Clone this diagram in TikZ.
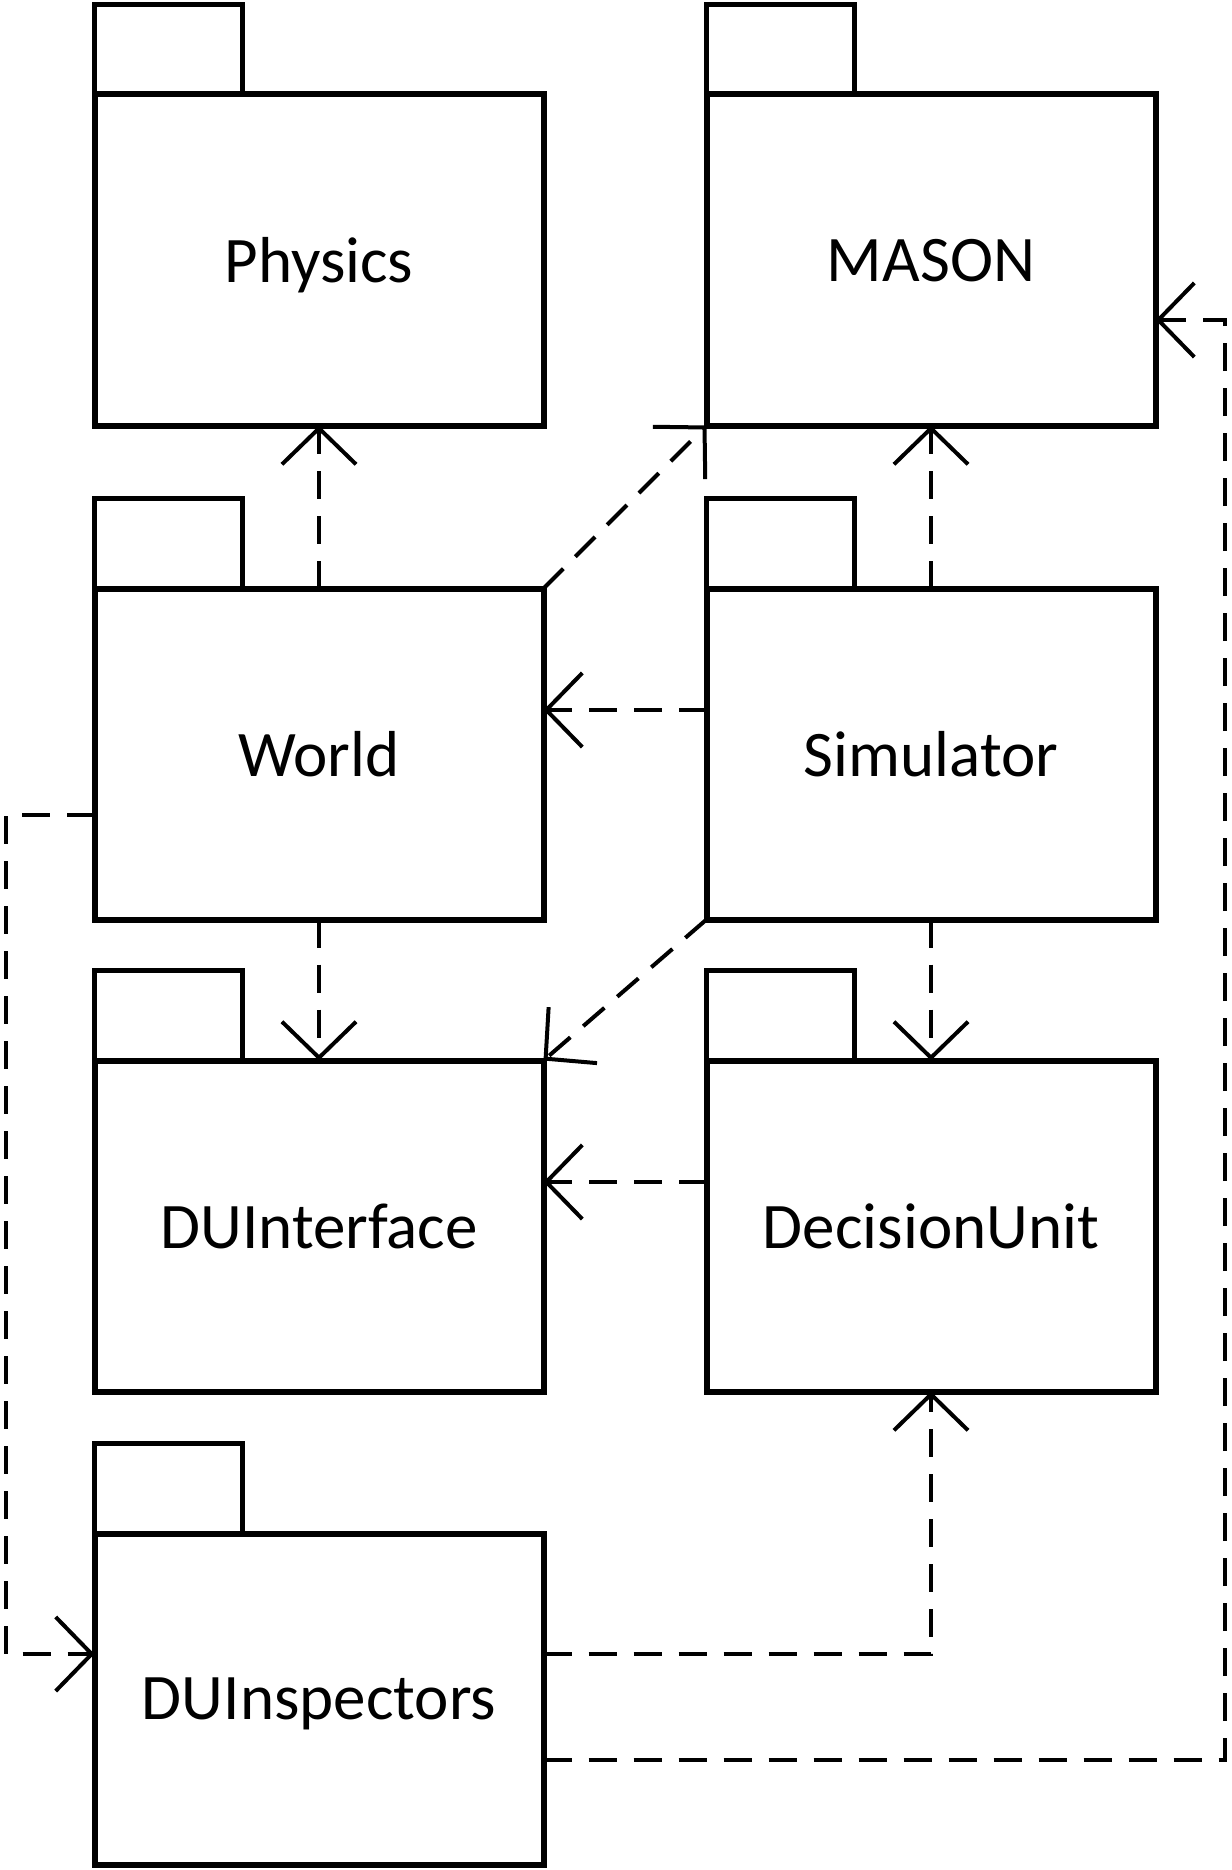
\documentclass[tikz,border=0pt]{standalone}
\usepackage{fontspec}
\setmainfont{Carlito}
\usetikzlibrary{positioning,arrows.meta}
\tikzset{
  pkg/.style    = {shape=rectangle, draw, line width=6pt, outer sep=0pt,
                   minimum width=449pt, minimum height=331pt, inner sep=0pt,
                   text depth=0pt, font=\fontsize{65}{78}\selectfont},
  pkgtab/.style = {shape=rectangle, draw, line width=5pt, outer sep=0pt,
                   minimum width=148pt, minimum height=90pt, anchor=south west},
  dep/.style    = {draw, line width=4pt, dash pattern=on 28pt off 17pt,
                   -{Straight Barb[length=36pt, width=74pt]}}
}

\begin{document}
\begin{tikzpicture}[x=1pt, y=-1pt, node distance=163pt]
  \useasboundingbox (0,0) rectangle (1231,1870);

  % packages
  \node [pkg] (physics) at (319,260) {Physics};
  \node [pkg, right=of physics] (mason) {MASON};
  \node [pkg, below=of physics] (world) {World};
  \node [pkg, right=of world] (simulator) {Simulator};
  \node [pkg, below=141pt of world] (duinterface) {DUInterface};
  \node [pkg, right=of duinterface] (decisionunit) {DecisionUnit};
  \node [pkg, below=142pt of duinterface] (duinspectors) {DUInspectors};

  \foreach \p in {physics,mason,world,simulator,duinterface,decisionunit,duinspectors}
    \node [pkgtab] (\p tab) at (\p.north west) {};

  % dependencies
  \coordinate (masonin) at ([yshift=-60pt]mason.east);
  \draw [dep] (world.north) -- (physics.south);
  \draw [dep] (simulator.north) -- (mason.south);
  \draw [dep] (world.north east) -- (mason.south west);
  \draw [dep] ([yshift=44pt]simulator.west) -- ([yshift=44pt]world.east);
  \draw [dep] (world.south) -- (duinterface.north);
  \draw [dep] (simulator.south west) -- (duinterface.north east);
  \draw [dep] (simulator.south) -- (decisionunit.north);
  \draw [dep] ([yshift=44pt]decisionunit.west) -- ([yshift=44pt]duinterface.east);
  \draw [dep] ([yshift=-61pt]world.west) -- ++(-89pt,0) |- ([yshift=45pt]duinspectors.west);
  \draw [dep] ([yshift=45pt]duinspectors.east) -| (decisionunit.south);
  \draw [dep] ([yshift=-61pt]duinspectors.east) -| ([xshift=69pt]masonin) -- (masonin);
\end{tikzpicture}
\end{document}
